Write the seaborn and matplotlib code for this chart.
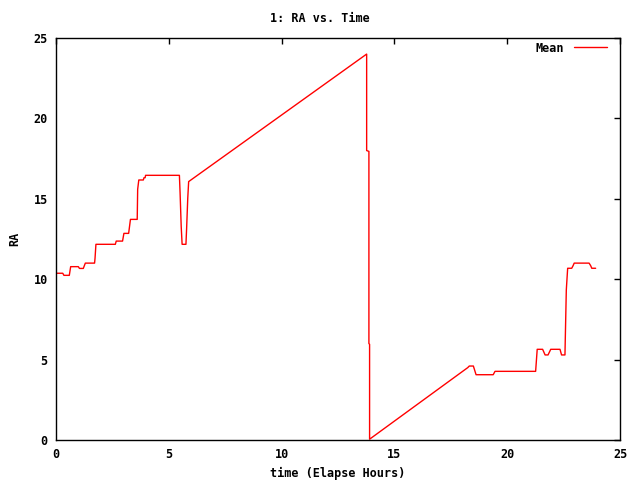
import matplotlib
matplotlib.use("Agg")
import matplotlib.pyplot as plt
import seaborn as sns
import pandas as pd

sns.set_style("white")
plt.rcParams['font.family'] = ['DejaVu Sans Mono', 'DejaVu Sans']
plt.rcParams['font.weight'] = 'bold'
plt.rcParams['text.color'] = 'black'
plt.rcParams['axes.labelcolor'] = 'black'

title = "1: RA vs. Time"
x_label = "time (Elapse Hours)"
y_label = "RA"
series_name = "Mean"

time_h = [0.00, 0.30, 0.35, 0.59, 0.65, 0.99, 1.04, 1.21, 1.30, 1.70, 1.71, 1.73, 1.77,
          2.63, 2.67, 2.95, 3.01, 3.22, 3.30, 3.60, 3.62, 3.67, 3.87, 3.90, 3.95, 3.97,
          5.47, 5.50, 5.55, 5.59, 5.76, 5.79, 5.84, 5.88, 13.77, 13.77, 13.87, 13.87,
          13.90, 13.90, 18.25, 18.32, 18.50, 18.62, 19.38, 19.46, 21.26, 21.33, 21.57,
          21.68, 21.81, 21.93, 22.34, 22.41, 22.56, 22.62, 22.68, 22.86, 22.92, 22.97,
          23.63, 23.70, 23.75, 23.92]
ra_mean = [10.37, 10.37, 10.24, 10.24, 10.78, 10.78, 10.67, 10.67, 11.00, 11.00, 11.00, 11.30, 12.17,
           12.17, 12.37, 12.37, 12.85, 12.85, 13.72, 13.72, 15.59, 16.17, 16.17, 16.31, 16.31, 16.46,
           16.46, 15.38, 13.27, 12.17, 12.17, 13.16, 15.03, 16.07, 24.00, 18.00, 17.95, 6.00,
           5.95, 0.05, 4.50, 4.60, 4.60, 4.06, 4.06, 4.27, 4.27, 5.64, 5.64,
           5.29, 5.29, 5.64, 5.64, 5.29, 5.29, 9.33, 10.68, 10.68, 10.84, 11.00,
           11.00, 10.84, 10.68, 10.68]

df = pd.DataFrame({"time": time_h, "RA": ra_mean, "series": series_name})

fig = plt.figure(figsize=(6.4, 4.8), dpi=100)
ax = fig.add_axes([56/640, 40/480, 564/640, 402/480])
sns.lineplot(data=df, x="time", y="RA", hue="series", palette=["#ff0000"],
             sort=False, estimator=None, linewidth=1.0, ax=ax)

ax.set_xlim(0, 25)
ax.set_ylim(0, 25)
ax.set_xticks([0, 5, 10, 15, 20, 25])
ax.set_yticks([0, 5, 10, 15, 20, 25])
ax.tick_params(direction="in", length=4.5, width=1, top=True, right=True,
               labelsize=8.5, colors="black", pad=6)
for lab in ax.get_xticklabels() + ax.get_yticklabels():
    lab.set_fontweight("bold")
for s in ax.spines.values():
    s.set_visible(True)
    s.set_color("black")
    s.set_linewidth(1.0)

ax.set_xlabel(x_label, fontsize=8.5, fontweight="bold", labelpad=4)
ax.set_ylabel(y_label, fontsize=8.5, fontweight="bold", labelpad=9)
fig.text(0.5, 1 - 18/480, title, ha="center", va="center", fontsize=8.5, fontweight="bold")

leg = ax.legend(loc="upper right", frameon=False, markerfirst=False, handlelength=2.8,
                prop={"size": 8.5, "weight": "bold"}, borderaxespad=0.0, title=None,
                bbox_to_anchor=(0.985, 1.003))

fig.savefig("out.png", dpi=100, facecolor="white")
